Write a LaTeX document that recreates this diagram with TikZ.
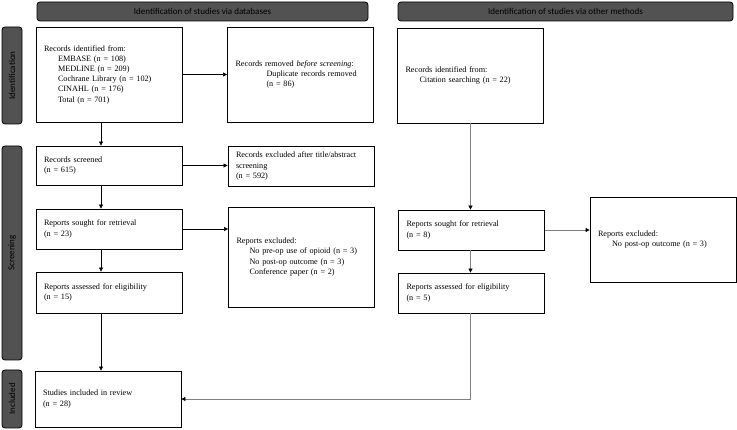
\documentclass[tikz,border=0pt]{standalone}
\usepackage{fontspec}
\setmainfont{Liberation Serif}
\newfontfamily\hdrfont{Carlito}
\usetikzlibrary{arrows.meta, positioning, calc}

\begin{document}
\begin{tikzpicture}[
   x = 1pt, y = -1pt,
   box/.style = {draw, line width=0.8pt, align=left, inner xsep=8pt, inner ysep=0pt,
                 text width=130pt, minimum height=#1, font=\fontsize{8.2}{10.2}\selectfont},
   hdr/.style = {draw, line width=0.8pt, fill=black!68, rounded corners=3pt, inner sep=0pt,
                 minimum height=19pt, font=\hdrfont\fontsize{9}{10}\selectfont},
   side/.style = {hdr, rotate=90, minimum height=20pt},
   arr/.style = {line width=0.6pt, -{Triangle[length=4pt, width=4pt]}},
   arrO/.style = {line width=0.8pt, gray, -{Triangle[length=4pt, width=4pt, color=black]}}]
   \useasboundingbox (0,0) rectangle (737,430);

   % headers and phases
   \node[hdr, minimum width=331pt] (dbHdr) at (202.5,11.5) {Identification of studies via databases};
   \node[hdr, minimum width=335pt] (otherHdr) at (565.5,11.5) {Identification of studies via other methods};
   \node[side, minimum width=97pt] (idPhase) at (12,75.5) {Identification};
   \node[side, minimum width=214pt] (scrPhase) at (12,253) {Screening};
   \node[side, minimum width=58pt] (incPhase) at (12,399) {Included};

   % databases
   \node[box=95pt] (rec) at (109,74.5) {Records identified from:\\
      \hspace*{14pt}EMBASE (n = 108)\\
      \hspace*{14pt}MEDLINE (n = 209)\\
      \hspace*{14pt}Cochrane Library (n = 102)\\
      \hspace*{14pt}CINAHL (n = 176)\\
      \hspace*{14pt}Total (n = 701)};
   \node[box=95pt] (removed) at (300.5,74.5) {Records removed \textit{before screening}:\\
      \hspace*{31pt}Duplicate records removed\\
      \hspace*{31pt}(n = 86)};
   \node[box=39pt] (screened) at (109,165.5) {Records screened\\(n = 615)};
   \node[box=40pt] (excluded) at (301,166) {Records excluded after title/abstract\\screening\\(n = 592)};
   \node[box=40pt] (sought) at (109,229) {Reports sought for retrieval\\(n = 23)};
   \node[box=100pt] (repExcl) at (301.5,257) {Reports excluded:\\
      \hspace*{13pt}No pre-op use of opioid (n = 3)\\
      \hspace*{13pt}No post-op outcome (n = 3)\\
      \hspace*{13pt}Conference paper (n = 2)};
   \node[box=41pt] (assessed) at (109,292.5) {Reports assessed for eligibility\\(n = 15)};
   \node[box=56pt] (included) at (108,399) {Studies included in review\\(n = 28)};

   % other methods
   \node[box=95pt] (citation) at (470.5,75.5) {Records identified from:\\
      \hspace*{14pt}Citation searching (n = 22)};
   \node[box=40pt] (soughtO) at (471.5,230) {Reports sought for retrieval\\(n = 8)};
   \node[box=85pt] (exclO) at (663,239.5) {Reports excluded:\\
      \hspace*{14pt}No post-op outcome (n = 3)};
   \node[box=40pt] (assessedO) at (471.5,293) {Reports assessed for eligibility\\(n = 5)};

   \draw[arr] (rec.east) -- (rec.east -| removed.west);
   \draw[arr] ([xshift=-8pt]rec.south) -- ([xshift=-8pt]rec.south |- screened.north);
   \draw[arr] (screened.east) -- (screened.east -| excluded.west);
   \draw[arr] ([xshift=-8pt]screened.south) -- ([xshift=-8pt]screened.south |- sought.north);
   \draw[arr] (sought.east) -- (sought.east -| repExcl.west);
   \draw[arr] ([xshift=-8pt]sought.south) -- ([xshift=-8pt]sought.south |- assessed.north);
   \draw[arr] ([xshift=-8pt]assessed.south) -- ([xshift=-8pt]assessed.south |- included.north);

   \draw[arrO] (citation.south) -- (citation.south |- soughtO.north);
   \draw[arrO] (soughtO.east) -- (soughtO.east -| exclO.west);
   \draw[arrO] (citation.south |- soughtO.south) -- (citation.south |- assessedO.north);
   \draw[arrO] (citation.south |- assessedO.south) |- (included.east);
\end{tikzpicture}
\end{document}
